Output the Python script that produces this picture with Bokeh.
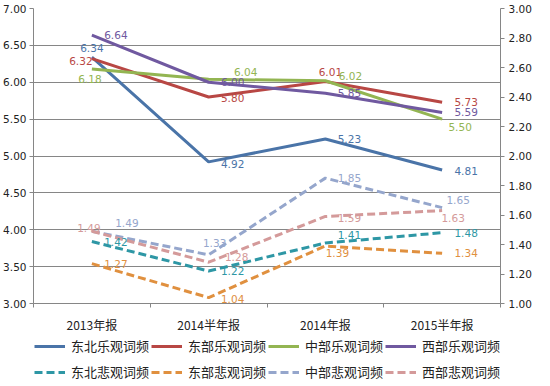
import json
from bokeh.plotting import figure
from bokeh.layouts import column
from bokeh.models import (Range1d, LinearAxis, FixedTicker, Legend, LegendItem,
                          ColumnDataSource, NumeralTickFormatter, CustomJSTickFormatter)
from bokeh.core.properties import value
from bokeh.embed import file_html
from bokeh.resources import INLINE

categories = ["2013年报", "2014半年报", "2014年报", "2015半年报"]

# optimistic (left axis)
ne_opt = [6.34, 4.92, 5.23, 4.81]
e_opt = [6.32, 5.80, 6.01, 5.73]
c_opt = [6.18, 6.04, 6.02, 5.50]
w_opt = [6.64, 6.00, 5.85, 5.59]
# pessimistic (right axis)
ne_pes = [1.42, 1.22, 1.41, 1.48]
e_pes = [1.27, 1.04, 1.39, 1.34]
c_pes = [1.49, 1.33, 1.85, 1.65]
w_pes = [1.49, 1.28, 1.59, 1.63]

names = ["东北乐观词频", "东部乐观词频", "中部乐观词频", "西部乐观词频",
         "东北悲观词频", "东部悲观词频", "中部悲观词频", "西部悲观词频"]

left_ticks = [3.0, 3.5, 4.0, 4.5, 5.0, 5.5, 6.0, 6.5, 7.0]
right_ticks = [1.0, 1.2, 1.4, 1.6, 1.8, 2.0, 2.2, 2.4, 2.6, 2.8, 3.0]

# styles
colors = ["#4A74A8", "#B84744", "#93B552", "#7059A0",
          "#2E97A5", "#E0903F", "#95A6CC", "#D49A9A"]
# label offsets in pixels (dx, dy) per point
label_dx = [
    [0, 24, 24, 24], [-11, 24, 5, 24], [-2, 37, 25, 18], [24, 24, 24, 24],
    [24, 24, 24, 24], [24, 24, 12, 24], [35, 6, 24, 16], [-3, 28, 24, 11],
]
label_dy = [
    [-9, 2, 0, 1], [2, 1, -10, 0], [10, -7, -5, 8], [0, 0, 0, 0],
    [0, 0, -8, 0], [0, 1, 7, 0], [-8, -12, 0, -8], [-3, -5, 2, 7],
]

series = [ne_opt, e_opt, c_opt, w_opt, ne_pes, e_pes, c_pes, w_pes]
xs = [i + 0.5 for i in range(len(categories))]

p = figure(width=534, height=335, output_backend="svg", toolbar_location=None,
           x_range=Range1d(0, len(categories)), y_range=Range1d(3, 7),
           min_border_left=33, min_border_right=33, min_border_top=8, min_border_bottom=28)
p.extra_y_ranges = {"right": Range1d(1, 3)}
p.outline_line_color = None
p.background_fill_color = "white"
p.border_fill_color = "white"

num_font = "DejaVu Sans"
cjk_font = "Noto Sans CJK SC"
axis_gray = "#868686"

# left axis
ya = p.yaxis[0]
ya.ticker = FixedTicker(ticks=left_ticks)
ya.formatter = NumeralTickFormatter(format="0.00")
ya.axis_line_color = axis_gray
ya.major_tick_line_color = axis_gray
ya.major_tick_out = 4
ya.major_tick_in = 0
ya.minor_tick_line_color = None
ya.major_label_standoff = 3
ya.major_label_text_font = num_font
ya.major_label_text_font_size = "10.5px"
ya.major_label_text_color = "#222222"

# right axis
ra = LinearAxis(y_range_name="right", ticker=FixedTicker(ticks=right_ticks),
                formatter=NumeralTickFormatter(format="0.00"))
ra.axis_line_color = axis_gray
ra.major_tick_line_color = axis_gray
ra.major_tick_out = 4
ra.major_tick_in = 0
ra.minor_tick_line_color = None
ra.major_label_standoff = 4
ra.major_label_text_font = num_font
ra.major_label_text_font_size = "10.5px"
ra.major_label_text_color = "#222222"
p.add_layout(ra, "right")

# bottom axis
xa = p.xaxis[0]
xa.ticker = FixedTicker(ticks=xs, minor_ticks=list(range(len(categories) + 1)))
xa.formatter = CustomJSTickFormatter(
    code="const cats = %s; const i = Math.floor(tick); return (i >= 0 && i < cats.length) ? cats[i] : '';"
    % json.dumps(categories))
xa.axis_line_color = axis_gray
xa.major_tick_line_color = None
xa.minor_tick_line_color = axis_gray
xa.minor_tick_out = 4
xa.minor_tick_in = 0
xa.major_label_standoff = 6
xa.major_label_text_font = cjk_font
xa.major_label_text_font_size = "12px"
xa.major_label_text_color = "#222222"

p.ygrid.ticker = FixedTicker(ticks=left_ticks)
p.ygrid.grid_line_color = axis_gray
p.ygrid.grid_line_width = 1
p.xgrid.visible = False

for i, vals in enumerate(series):
    dashed = i >= 4
    kw = dict(y_range_name="right") if dashed else {}
    p.line(xs, vals, line_color=colors[i], line_width=3,
           line_dash="8 4" if dashed else "solid", **kw)

for i, vals in enumerate(series):
    dashed = i >= 4
    kw = dict(y_range_name="right") if dashed else {}
    src = ColumnDataSource(dict(x=xs, y=vals, t=["%.2f" % v for v in vals],
                                dx=label_dx[i], dy=label_dy[i]))
    p.text(x="x", y="y", text="t", x_offset="dx", y_offset="dy", source=src,
           text_color=colors[i], text_font=value(num_font), text_font_size="10.5px",
           text_align="center", text_baseline="middle", **kw)

# legend strip
lf = figure(width=534, height=46, output_backend="svg", toolbar_location=None,
            x_range=Range1d(0, 1), y_range=Range1d(0, 1),
            x_axis_location=None, y_axis_location=None,
            min_border_left=0, min_border_right=0, min_border_top=0, min_border_bottom=0)
lf.grid.visible = False
lf.outline_line_color = None
lf.border_fill_color = "white"

leg_renderers = []
for i in range(len(series)):
    dashed = i >= 4
    # series sample lines for the legend only, kept outside the visible range
    r = lf.line(x=[-5, -4], y=[-5, -4], line_color=colors[i], line_width=3,
                line_dash="8 4" if dashed else "solid")
    leg_renderers.append(r)

def make_legend(items, loc):
    return Legend(items=items, orientation="horizontal", location=loc,
                  glyph_width=31, glyph_height=12, label_height=14, label_standoff=6,
                  spacing=2, padding=3, margin=0, border_line_color=None,
                  background_fill_alpha=0,
                  label_text_font=cjk_font, label_text_font_size="13px",
                  label_text_color="#222222")

lg1 = make_legend([LegendItem(label=names[i], renderers=[leg_renderers[i]]) for i in range(4)], (1, 26))
lg2 = make_legend([LegendItem(label=names[i], renderers=[leg_renderers[i]]) for i in range(4, 8)], (1, 0))
lf.add_layout(lg1, "center")
lf.add_layout(lg2, "center")

layout = column(p, lf, spacing=0)
open("out.html", "w").write(file_html(layout, INLINE))
